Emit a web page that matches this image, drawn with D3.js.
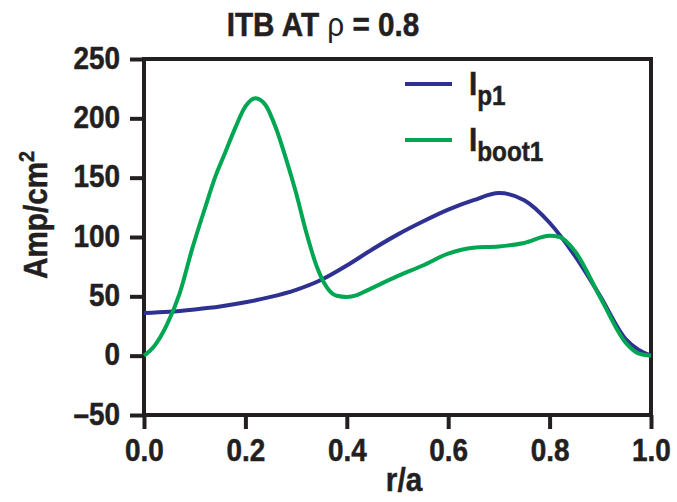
<!DOCTYPE html>
<html>
<head>
<meta charset="utf-8">
<script src="https://cdn.jsdelivr.net/npm/d3@7"></script>
<style>
  body { margin: 0; background: #fff; }
  svg text { font-family: "Liberation Sans", Arial, Helvetica, sans-serif; font-weight: bold; fill: #231f20; stroke: #231f20; stroke-width: 0.5px; }
</style>
</head>
<body>
<div id="chart"></div>
<script>
// r/a sample points and current densities (Amp/cm^2)
const rIp = [0, 0.05, 0.1, 0.15, 0.2, 0.25, 0.3, 0.35, 0.4, 0.45, 0.5, 0.55, 0.6, 0.65, 0.7, 0.75, 0.8, 0.85, 0.9, 0.95, 0.975, 1.0];
const ip1 = [36, 37, 39, 41.5, 45, 49.5, 55.5, 64, 76, 89.5, 102, 113, 123, 131, 137, 131, 112, 84, 50, 14, 5, 0];

const rBoot = [0, 0.02, 0.045, 0.07, 0.095, 0.12, 0.14, 0.16, 0.18, 0.2, 0.22, 0.24, 0.26, 0.28, 0.3, 0.32, 0.34, 0.36, 0.38, 0.4, 0.42, 0.44, 0.5, 0.55, 0.6, 0.65, 0.7, 0.75, 0.8, 0.82, 0.85, 0.9, 0.95, 0.975, 1.0];
const iboot1 = [0, 8, 26, 52, 90, 124, 150, 171, 192, 210, 217, 211, 192, 166, 137, 104, 76, 58, 50.5, 49.5, 51, 55, 67, 76, 86, 91, 92, 95, 101, 100, 88, 49, 11, 2, 0];

const xTicks = [0, 0.2, 0.4, 0.6, 0.8, 1.0];
const yTicks = [-50, 0, 50, 100, 150, 200, 250];

const width = 677, height = 502;
const ink = '#231f20';
const squeeze = 0.9; // the original lettering is a condensed face

const svg = d3.select('#chart').append('svg')
    .attr('width', width)
    .attr('height', height);

const x = d3.scaleLinear().domain([0, 1]).range([144, 651]);
const y = d3.scaleLinear().domain([-50, 250]).range([415, 59]);

// Title
const title = svg.append('text')
    .attr('transform', `translate(323,36) scale(${squeeze},1)`)
    .attr('text-anchor', 'middle')
    .attr('font-size', '33px');
title.append('tspan').text('ITB AT ');
title.append('tspan').attr('font-weight', 'normal').style('stroke-width', 0).text('ρ');
title.append('tspan').text(' = 0.8');

// Axes
const xAxis = d3.axisBottom(x)
    .tickValues(xTicks)
    .tickSize(14)
    .tickSizeOuter(0)
    .tickPadding(8)
    .tickFormat(d3.format('.1f'));

const yAxis = d3.axisLeft(y)
    .tickValues(yTicks)
    .tickSize(14)
    .tickSizeOuter(0)
    .tickPadding(10)
    .tickFormat(d => d < 0 ? '\u2013' + Math.abs(d) : d);

const gx = svg.append('g')
    .attr('transform', `translate(0,${y(-50)})`)
    .call(xAxis);

const gy = svg.append('g')
    .attr('transform', `translate(${x(0)},0)`)
    .call(yAxis);

[gx, gy].forEach(g => {
    g.select('.domain').remove();
    g.selectAll('.tick line').attr('stroke', ink).attr('stroke-width', 4);
    g.selectAll('.tick text')
        .attr('fill', ink)
        .attr('transform', `scale(${squeeze},1)`)
        .style('font-size', '31px')
        .style('font-family', '"Liberation Sans", Arial, sans-serif')
        .style('font-weight', 'bold');
});
gx.selectAll('.tick text').attr('dy', '0.77em');
gy.selectAll('.tick text')
    .attr('x', -24 / squeeze)
    .attr('dy', '0.29em');

// Plot frame
svg.append('rect')
    .attr('x', x(0))
    .attr('y', y(250))
    .attr('width', x(1) - x(0))
    .attr('height', y(-50) - y(250))
    .attr('fill', 'none')
    .attr('stroke', ink)
    .attr('stroke-width', 4);

// Axis titles
svg.append('text')
    .attr('transform', `translate(404,491) scale(${squeeze},1)`)
    .attr('text-anchor', 'middle')
    .attr('font-size', '33px')
    .text('r/a');

const yTitle = svg.append('text')
    .attr('transform', `translate(47,279) rotate(-90) scale(${squeeze},1)`)
    .attr('font-size', '33px');
yTitle.append('tspan').text('Amp/cm');
yTitle.append('tspan').attr('font-size', '22px').attr('dy', '-13').text('2');

// Curves
const line = d3.line()
    .x(d => x(d[0]))
    .y(d => y(d[1]))
    .curve(d3.curveMonotoneX);

const series = [
    { r: rIp, v: ip1, color: '#2e3192', main: 'I', sub: 'p1' },
    { r: rBoot, v: iboot1, color: '#00a651', main: 'I', sub: 'boot1' }
];

series.forEach(s => {
    svg.append('path')
        .datum(s.r.map((r, i) => [r, s.v[i]]))
        .attr('d', line)
        .attr('fill', 'none')
        .attr('stroke', s.color)
        .attr('stroke-width', 4)
        .attr('stroke-linejoin', 'round');
});

// Legend
const legend = svg.append('g');
series.forEach((s, i) => {
    const ly = 84 + i * 56;
    legend.append('line')
        .attr('x1', 405).attr('x2', 452)
        .attr('y1', ly).attr('y2', ly)
        .attr('stroke', s.color)
        .attr('stroke-width', 4);
    const t = legend.append('text')
        .attr('transform', `translate(469,${ly + 11}) scale(${squeeze},1)`)
        .attr('font-size', '33px');
    t.append('tspan').text(s.main);
    t.append('tspan').attr('font-size', '27px').attr('dy', '10').text(s.sub);
});
</script>
</body>
</html>
